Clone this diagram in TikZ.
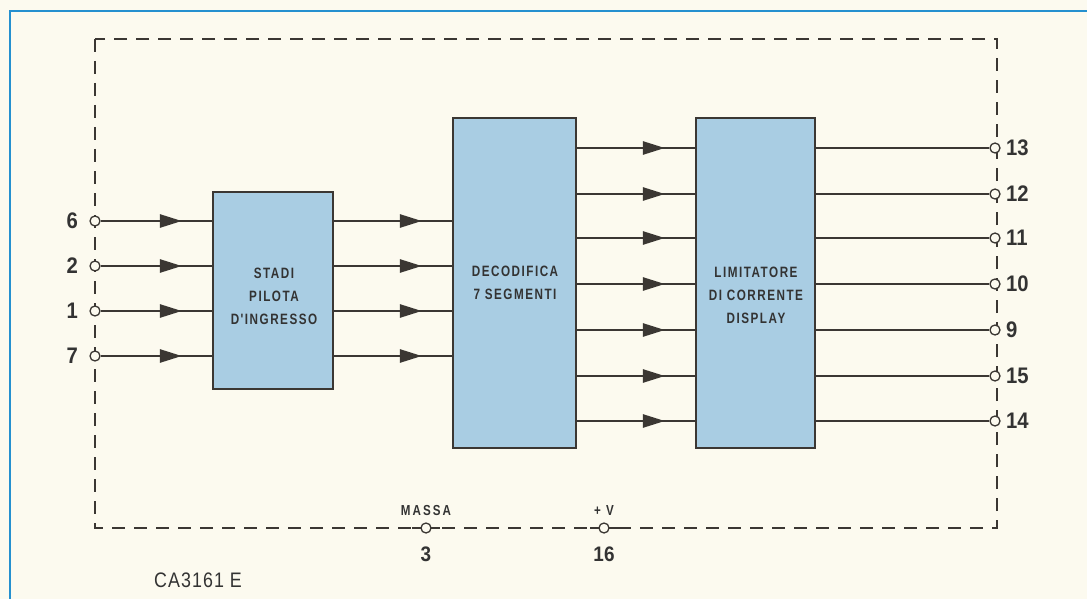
\documentclass[tikz,border=0pt]{standalone}
\usepackage{fontspec}
\setmainfont{Liberation Sans}
\newfontfamily\condfont[FakeStretch=0.85,LetterSpace=5]{Liberation Sans}
\newfontfamily\digitfont[FakeStretch=0.9]{Liberation Sans}
\newfontfamily\blockfont[FakeStretch=0.78,LetterSpace=10]{Liberation Sans}
\newfontfamily\smallfont[FakeStretch=0.8,LetterSpace=14]{Liberation Sans}
\usetikzlibrary{arrows.meta,decorations.markings}
\definecolor{paper}{HTML}{FCFAEF}
\definecolor{frameblue}{HTML}{2590CF}
\definecolor{boxblue}{HTML}{A9CDE3}
\definecolor{ink}{HTML}{3B3733}
\definecolor{txt}{HTML}{333333}
\tikzset{
  block/.style={draw=ink, line width=2.2pt, fill=boxblue, inner sep=0pt},
  btext/.style={text=txt, align=center, inner sep=0pt, font=\blockfont\bfseries\fontsize{15}{23}\selectfont},
  pin/.style={circle, draw=ink, line width=1.3pt, fill=paper, minimum size=10pt, inner sep=0pt},
  wire/.style={draw=ink, line width=2.5pt},
  sig/.style={wire, postaction={decorate}, decoration={markings,
      mark=at position -30pt with {\arrow{Triangle[length=22pt,width=13pt]}}}},
  pinlbl/.style={text=txt, inner sep=0pt, font=\digitfont\bfseries\fontsize{22.5}{22.5}\selectfont},
  smalllbl/.style={text=txt, inner sep=0pt, font=\smallfont\bfseries\fontsize{14.5}{14.5}\selectfont},
  botlbl/.style={text=txt, inner sep=0pt, font=\digitfont\bfseries\fontsize{21}{21}\selectfont},
}
\begin{document}
\begin{tikzpicture}[x=1pt,y=-1pt]
\fill[paper] (0,0) rectangle (1087,599);
\useasboundingbox (0,0) rectangle (1087,599);
% blue frame
\draw[frameblue, line width=2.5pt] (10,599) -- (10,11) -- (1087,11);
% dashed package outline
\draw[ink, line width=1.2pt, dash pattern=on 13pt off 9pt] (95,39) rectangle (997,528);
% blocks
\node[block, minimum width=120pt, minimum height=197pt] (stadi) at (273,290.5) {};
\node[block, minimum width=123pt, minimum height=330pt] (deco) at (514.5,283) {};
\node[block, minimum width=119pt, minimum height=330pt] (limit) at (755.5,283) {};
\node[btext] (stadiT) at (274,296) {STADI\\PILOTA\\D'INGRESSO};
\node[btext] (decoT) at (515,283) {DECODIFICA\\7 SEGMENTI};
\node[btext] (limitT) at (756,295) {LIMITATORE\\DI CORRENTE\\DISPLAY};
% input pins
\foreach \n/\y in {6/221,2/266,1/311,7/356}{
  \node[pin] (p\n) at (95,\y) {};
  \node[pinlbl, anchor=east] (l\n) at (78,\y) {\n};
  \draw[sig] (p\n) -- (p\n -| stadi.west);
  \draw[sig] (stadi.east |- p\n) -- (deco.west |- p\n);
}
% output pins
\foreach \n/\y in {13/148,12/194,11/238,10/284,9/330,15/376,14/421}{
  \node[pin] (p\n) at (995,\y) {};
  \node[pinlbl, anchor=west] (l\n) at (1006,\y) {\n};
  \draw[sig] (deco.east |- p\n) -- (limit.west |- p\n);
  \draw[wire] (limit.east |- p\n) -- (p\n);
}
% supply pins
\foreach \n/\x/\t in {3/426/MASSA,16/604/+ V}{
  \coordinate (c\n) at (\x,528);
  \draw[ink, line width=1.3pt] ([xshift=-14pt]c\n) -- ([xshift=14pt]c\n);
  \node[pin] (p\n) at (c\n) {};
  \node[smalllbl] (t\n) at (\x,510.5) {\t};
  \node[botlbl] (l\n) at (\x,554) {\n};
}
\node[text=txt, inner sep=0pt, anchor=west, font=\condfont\fontsize{21}{21}\selectfont] (chip) at (154,580) {CA3161 E};
\end{tikzpicture}
\end{document}
